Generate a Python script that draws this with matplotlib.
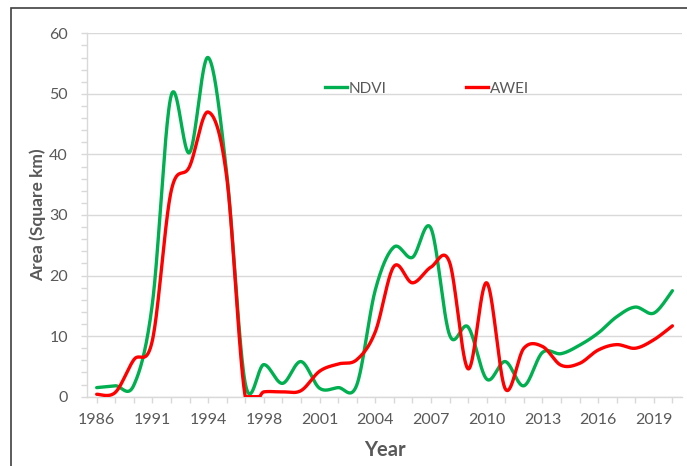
import matplotlib
matplotlib.use("Agg")
import matplotlib.pyplot as plt
from matplotlib.patches import Rectangle
from matplotlib.lines import Line2D
from matplotlib.ticker import MultipleLocator
import numpy as np

plt.rcParams['font.family'] = ['Lato', 'DejaVu Sans']

# categories (one per image date); only every third one is labelled
years = [1986, 1988, 1989, 1991, 1992, 1993, 1994, 1995, 1996, 1998,
         1999, 2000, 2001, 2002, 2003, 2004, 2005, 2006, 2007, 2008,
         2009, 2010, 2011, 2012, 2013, 2014, 2015, 2016, 2017, 2018,
         2019, 2020]
ndvi = [1.5, 1.8, 1.9, 15.4, 49.6, 40.3, 56.0, 36.9, 2.2, 5.3,
        2.2, 5.8, 1.4, 1.5, 1.9, 17.6, 24.7, 23.0, 27.8, 10.2,
        11.5, 2.9, 5.8, 1.8, 7.3, 7.1, 8.5, 10.5, 13.2, 14.8,
        13.8, 17.5]
awei = [0.4, 0.7, 6.1, 9.3, 33.8, 38.0, 47.0, 36.3, 0.0, 0.8,
        0.8, 1.0, 4.2, 5.4, 6.1, 10.7, 21.5, 18.8, 21.4, 22.2,
        4.6, 18.8, 1.3, 8.0, 8.3, 5.2, 5.5, 7.7, 8.6, 8.0,
        9.4, 11.7]

GREEN = '#00B050'
RED = '#FF0000'
TXT = '#595959'
GRID = '#D9D9D9'


def smooth_xy(x, y, steps=40):
    # Excel-style smoothed line: cubic bezier segments with Catmull-Rom
    # control points; parts dipping under the axis floor sit on it
    pts = np.column_stack([x, y]).astype(float)
    n = len(pts)
    t = np.linspace(0, 1, steps)[:, None]
    out = [pts[:1]]
    for i in range(n - 1):
        p0 = pts[i - 1] if i > 0 else pts[i]
        p1 = pts[i]
        p2 = pts[i + 1]
        p3 = pts[i + 2] if i + 2 < n else pts[i + 1]
        c1 = p1 + (p2 - p0) / 6.0
        c2 = p2 - (p3 - p1) / 6.0
        seg = ((1 - t) ** 3 * p1 + 3 * (1 - t) ** 2 * t * c1
               + 3 * (1 - t) * t ** 2 * c2 + t ** 3 * p2)
        out.append(seg[1:])
    xy = np.vstack(out)
    return xy[:, 0], np.clip(xy[:, 1], 0, None)


fig = plt.figure(figsize=(6.87, 4.66), dpi=100)
ax = fig.add_axes([87.4 / 687, 1 - 396.7 / 466, 594.3 / 687, 363.4 / 466])

idx = np.arange(len(years))
for vals, col in [(ndvi, GREEN), (awei, RED)]:
    sx, sy = smooth_xy(idx, vals)
    ax.plot(sx, sy, color=col, lw=2.4, solid_capstyle='round',
            solid_joinstyle='round', zorder=3)

ax.set_xlim(-0.5, len(years) - 0.5)
ax.set_ylim(0, 60)

ax.yaxis.set_major_locator(MultipleLocator(10))
ax.yaxis.set_minor_locator(MultipleLocator(2))
ax.grid(axis='y', color=GRID, lw=1.0)
ax.set_axisbelow(True)

ax.set_xticks(idx)
ax.set_xticklabels([str(y) if i % 3 == 0 else '' for i, y in enumerate(years)])

for s in ['top', 'right']:
    ax.spines[s].set_visible(False)
for s in ['left', 'bottom']:
    ax.spines[s].set_color(GRID)
    ax.spines[s].set_linewidth(1.0)

ax.tick_params(axis='both', which='both', colors=GRID, length=4, width=1.0,
               labelcolor=TXT, labelsize=11.5)
ax.tick_params(axis='x', pad=8)
ax.tick_params(axis='y', pad=10)

ax.set_xlabel('Year', fontsize=14.5, fontweight='bold', color=TXT, labelpad=9)
ax.set_ylabel('Area (Square km)', fontsize=12.5, fontweight='bold', color=TXT,
              labelpad=2)

handles = [Line2D([], [], color=GREEN, lw=2.4), Line2D([], [], color=RED, lw=2.4)]
leg = ax.legend(handles, ['NDVI', 'AWEI'], ncol=2, loc='center',
                bbox_to_anchor=(0.572, 0.848), frameon=False, fontsize=11,
                handlelength=1.4, handletextpad=0.15, columnspacing=5.2,
                borderpad=0)
for t in leg.get_texts():
    t.set_color(TXT)

# chart border (cut off at the right and bottom of the image)
fig.patches.append(Rectangle((10.5 / 687, -0.1), 1.2, 1.1 - 7.5 / 466,
                             transform=fig.transFigure, fill=False,
                             edgecolor='#404040', lw=1.2))

fig.savefig('out.png', dpi=100)
